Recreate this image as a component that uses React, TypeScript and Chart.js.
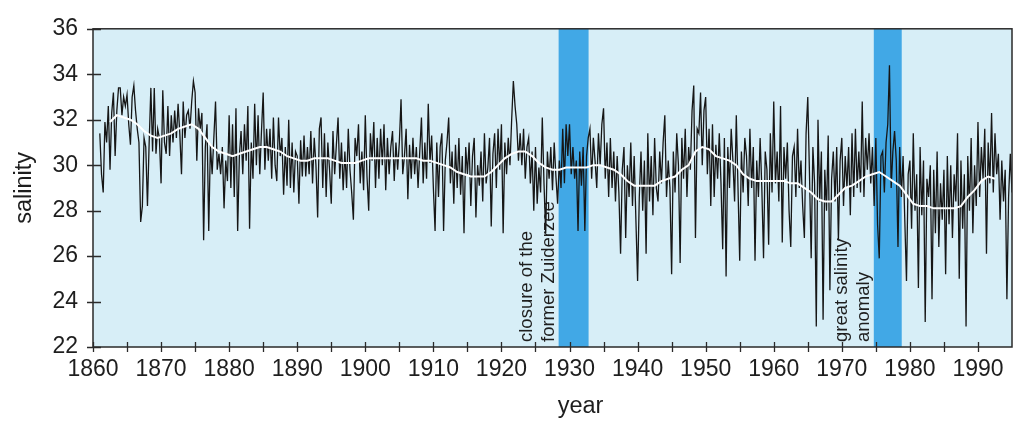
import React, { useEffect, useRef } from 'react';
import { Chart, registerables } from 'chart.js';

Chart.register(...registerables);

// Seasonal surface salinity, four samples a year starting in 1861.
const firstYear = 1861;
const samplesPerYear = 4;
const salinity: number[] = [
  31.4, 29.6, 28.8, 31.9, // 1861
  31.0, 32.6, 29.8, 32.3,
  33.2, 30.4, 32.4, 33.4,
  33.4, 32.2, 33.0, 32.6,
  33.1, 31.8, 30.9, 33.0,
  33.5, 32.4, 31.6, 31.0,
  27.5, 28.2, 31.2, 30.8,
  28.2, 31.0, 33.4, 30.6,
  33.4, 30.5, 31.6, 31.2,
  29.2, 33.3, 31.0, 30.5, // 1870
  32.6, 30.4, 32.2, 31.0,
  32.4, 31.2, 32.7, 31.4,
  29.6, 32.8, 31.2, 32.2,
  32.4, 31.6, 32.8, 33.7,
  33.2, 30.2, 32.5, 31.6,
  32.3, 26.7, 30.8, 31.8,
  27.1, 30.9, 29.6, 31.2,
  32.8, 29.8, 30.5, 29.6,
  30.8, 28.1, 30.2, 29.3,
  32.2, 29.0, 31.8, 28.6, // 1880
  32.5, 27.1, 30.4, 31.5,
  29.6, 31.8, 30.2, 32.6,
  27.2, 31.0, 29.4, 32.7,
  30.0, 32.2, 29.6, 31.5,
  33.2, 29.8, 31.6, 30.2,
  31.6, 29.4, 32.1, 30.0,
  29.3, 32.1, 30.4, 31.2,
  28.7, 30.8, 29.1, 32.0,
  29.0, 31.0, 28.8, 30.6,
  30.4, 28.3, 31.1, 29.5, // 1890
  31.3, 29.5, 30.8, 29.6,
  31.5, 29.2, 31.2, 30.0,
  27.7, 31.6, 32.1, 29.0,
  31.4, 28.6, 31.0, 29.8,
  28.3, 31.5, 29.6, 30.9,
  32.1, 29.4, 31.0, 28.9,
  30.6, 29.0, 31.6, 29.8,
  28.8, 27.6, 31.2, 30.4,
  31.8, 29.2, 30.6, 28.9,
  32.2, 29.5, 28.0, 31.4, // 1900
  30.2, 31.9, 29.0, 31.2,
  29.4, 31.6, 30.0, 31.8,
  28.9, 31.2, 29.6, 30.8,
  31.5, 29.3, 31.0, 29.8,
  31.0, 32.9, 29.6, 30.4,
  31.6, 28.5, 30.9, 29.4,
  31.2, 29.6, 30.8, 29.0,
  30.6, 32.1, 29.2, 31.0,
  29.4, 32.7, 30.1, 31.3,
  29.0, 27.1, 31.0, 28.6, // 1910
  30.8, 31.4, 27.1, 30.2,
  31.0, 32.1, 29.2, 30.6,
  28.3, 30.9, 29.0, 31.2,
  28.7, 30.4, 27.0, 30.8,
  29.6, 31.0, 28.2, 30.4,
  31.2, 27.7, 30.0, 29.1,
  30.6, 28.4, 31.4, 29.2,
  29.9, 31.2, 27.3, 30.5,
  31.4, 29.0, 31.6, 29.8,
  31.8, 27.0, 31.0, 29.6, // 1920
  31.2, 30.0, 32.0, 33.7,
  32.6, 31.8, 30.2, 31.4,
  30.0, 31.6, 29.4, 30.8,
  31.2, 29.2, 30.6, 28.0,
  30.8, 28.3, 29.9, 28.8,
  32.1, 29.2, 27.0, 30.6,
  29.4, 30.8, 28.9, 31.0,
  29.5, 28.3, 30.2, 29.0,
  31.6, 29.2, 31.8, 30.4,
  31.8, 29.6, 30.8, 29.4, // 1930
  30.2, 27.1, 30.6, 29.1,
  30.8, 27.1, 30.4, 31.2,
  31.6, 29.4, 31.2, 30.2,
  29.0, 31.4, 30.0, 31.8,
  32.5, 29.4, 31.0, 28.6,
  31.2, 29.0, 30.6, 28.4,
  30.4, 28.8, 26.1, 29.8,
  30.8, 26.8, 30.0, 28.6,
  31.0, 28.2, 30.4, 27.6,
  24.9, 28.6, 30.6, 28.0, // 1940
  30.2, 26.1, 31.4, 28.4,
  30.4, 27.8, 31.2, 29.0,
  28.4, 30.6, 29.2, 31.0,
  32.2, 28.6, 30.2, 29.0,
  25.2, 30.6, 28.8, 31.4,
  30.0, 25.7, 31.2, 29.4,
  31.6, 28.6, 30.8, 29.8,
  32.4, 33.5, 26.8, 31.6,
  31.4, 33.2, 30.0, 32.4,
  33.0, 29.6, 31.6, 28.2, // 1950
  31.8, 28.6, 30.9, 29.4,
  31.4, 29.2, 26.3, 31.2,
  25.1, 30.8, 29.0, 31.6,
  30.2, 28.4, 32.2, 29.0,
  25.8, 30.6, 28.8, 31.2,
  30.4, 28.2, 31.6, 29.0,
  30.8, 25.8, 30.2, 28.6,
  31.2, 29.0, 25.9, 30.6,
  29.8, 26.5, 31.4, 28.8,
  32.8, 29.2, 30.6, 28.4, // 1960
  32.6, 26.6, 30.8, 29.4,
  31.0, 28.0, 26.4, 30.4,
  30.8, 28.6, 31.6, 29.0,
  30.2, 28.2, 26.8, 31.4,
  33.0, 29.6, 25.9, 30.8,
  29.2, 22.9, 32.0, 28.4,
  30.6, 23.2, 29.8, 28.0,
  31.3, 24.5, 29.4, 30.6,
  28.4, 30.8, 26.7, 30.2,
  31.2, 28.2, 30.4, 29.0, // 1970
  30.8, 27.8, 31.4, 28.6,
  31.6, 29.0, 30.6, 28.8,
  32.8, 28.6, 31.2, 29.8,
  31.4, 29.2, 30.8, 28.2,
  31.2, 27.4, 25.9, 30.4,
  30.6, 28.8, 31.0, 31.8,
  34.4, 29.0, 30.6, 31.5,
  30.2, 26.4, 30.8, 28.6,
  30.4, 27.6, 24.9, 29.6,
  30.2, 27.2, 31.4, 28.0, // 1980
  29.6, 24.6, 30.8, 27.8,
  30.2, 23.1, 29.4, 28.6,
  30.0, 24.1, 29.8, 27.0,
  30.6, 26.4, 29.2, 27.6,
  29.8, 25.2, 30.4, 27.4,
  30.0, 26.8, 29.6, 28.4,
  31.4, 25.0, 30.2, 27.2,
  29.6, 22.9, 30.4, 28.0,
  31.2, 27.0, 30.0, 28.2,
  31.9, 28.6, 30.8, 29.4, // 1990
  31.6, 26.1, 31.0, 29.2,
  32.3, 28.8, 31.4, 29.6,
  30.5, 27.6, 30.2, 28.4,
  29.8, 24.1, 28.6, 30.5,
  28.8, // 1995
];

// Five-year running mean, one value per year, centred mid-year.
const meanFirstYear = 1862;
const runningMean: number[] = [
  31.9, 32.2, 32.1, 32.0, 31.8, 31.5, 31.3, 31.2, // 1862-1869
  31.3, 31.4, 31.6, 31.7, 31.8, 31.6, 31.2, 30.8, 30.6, 30.5, // 1870s
  30.4, 30.5, 30.6, 30.7, 30.8, 30.8, 30.7, 30.6, 30.4, 30.3, // 1880s
  30.2, 30.2, 30.3, 30.3, 30.3, 30.2, 30.1, 30.1, 30.1, 30.2, // 1890s
  30.3, 30.3, 30.3, 30.3, 30.3, 30.3, 30.3, 30.3, 30.2, 30.2, // 1900s
  30.1, 30.0, 29.9, 29.7, 29.6, 29.5, 29.5, 29.5, 29.7, 30.0, // 1910s
  30.3, 30.5, 30.6, 30.6, 30.4, 30.1, 29.9, 29.8, 29.8, 29.9, // 1920s
  29.9, 29.9, 29.9, 30.0, 30.0, 29.9, 29.8, 29.6, 29.3, 29.1, // 1930s
  29.1, 29.1, 29.1, 29.3, 29.4, 29.5, 29.8, 30.0, 30.6, 30.8, // 1940s
  30.7, 30.4, 30.3, 30.2, 30.0, 29.6, 29.4, 29.3, 29.3, 29.3, // 1950s
  29.3, 29.3, 29.2, 29.2, 29.0, 28.8, 28.5, 28.4, 28.4, 28.7, // 1960s
  29.0, 29.1, 29.3, 29.5, 29.6, 29.7, 29.5, 29.3, 29.1, 28.7, // 1970s
  28.3, 28.2, 28.2, 28.1, 28.1, 28.1, 28.1, 28.2, 28.6, 28.9, // 1980s
  29.3, 29.5, 29.4, // 1990-1992
];

const yearMin = 1860;
const yearMax = 1995;
const yearLabels = [1860, 1870, 1880, 1890, 1900, 1910, 1920, 1930, 1940, 1950, 1960, 1970, 1980, 1990];
const yearTickMarks = [
  1860, 1865, 1870, 1875, 1880, 1885, 1890, 1895, 1900, 1905, 1910, 1915, 1920, 1925,
  1930, 1935, 1940, 1945, 1950, 1955, 1960, 1965, 1970, 1975, 1980, 1985, 1990,
];
const salinityTicks = [22, 24, 26, 28, 30, 32, 34, 36];

// Highlighted periods with their two-line captions.
const eventStart = [1928.4, 1974.7];
const eventEnd = [1932.8, 1978.8];
const eventCaptions = [
  ['closure of the', 'former Zuiderzee'],
  ['great salinity', 'anomaly'],
];

const FONT = '"Liberation Sans", Arial, Helvetica, sans-serif';
const INK = '#1e1e1e';
const PLOT_BG = '#d7eef7';
const EVENT_BLUE = '#41a8e6';

const framePlugin = {
  id: 'salinityFrame',
  beforeDatasetsDraw(chart: any) {
    const { ctx, chartArea: a, scales } = chart;
    const x = scales.x;
    ctx.save();
    ctx.fillStyle = PLOT_BG;
    ctx.fillRect(a.left, a.top, a.right - a.left, a.bottom - a.top);
    ctx.fillStyle = EVENT_BLUE;
    for (let i = 0; i < eventStart.length; i++) {
      const x0 = x.getPixelForValue(eventStart[i]);
      const x1 = x.getPixelForValue(eventEnd[i]);
      ctx.fillRect(x0, a.top, x1 - x0, a.bottom - a.top);
    }
    ctx.restore();
  },
  afterDatasetsDraw(chart: any) {
    const { ctx, chartArea: a, scales } = chart;
    const x = scales.x;
    const y = scales.y;
    ctx.save();

    // captions, reading upwards, just left of each band
    ctx.fillStyle = INK;
    ctx.font = `18.5px ${FONT}`;
    ctx.textAlign = 'left';
    ctx.textBaseline = 'middle';
    for (let i = 0; i < eventStart.length; i++) {
      const x0 = x.getPixelForValue(eventStart[i]);
      const lines = eventCaptions[i];
      lines.forEach((text, j) => {
        const cx = x0 - 32 + j * 22;
        ctx.save();
        ctx.translate(cx, a.bottom - 5);
        ctx.rotate(-Math.PI / 2);
        ctx.fillText(text, 0, 0);
        ctx.restore();
      });
    }

    // frame
    ctx.strokeStyle = '#2a2a2a';
    ctx.lineWidth = 1.5;
    ctx.strokeRect(a.left, a.top, a.right - a.left, a.bottom - a.top);

    // tick marks crossing the axes
    ctx.lineWidth = 1.3;
    ctx.beginPath();
    for (const v of yearTickMarks) {
      const px = Math.round(x.getPixelForValue(v)) + 0.5;
      ctx.moveTo(px, a.bottom - 5);
      ctx.lineTo(px, a.bottom + 5);
    }
    for (const v of salinityTicks) {
      const py = Math.round(y.getPixelForValue(v)) + 0.5;
      ctx.moveTo(a.left - 6, py);
      ctx.lineTo(a.left + 8, py);
    }
    ctx.stroke();

    // axis titles
    ctx.fillStyle = INK;
    ctx.font = `23.5px ${FONT}`;
    ctx.textAlign = 'center';
    ctx.textBaseline = 'middle';
    ctx.fillText('year', (a.left + a.right) / 2 + 28, 407);
    ctx.save();
    ctx.translate(25, (a.top + a.bottom) / 2);
    ctx.rotate(-Math.PI / 2);
    ctx.fillText('salinity', 0, 0);
    ctx.restore();

    ctx.restore();
  },
};

export default function App() {
  const canvasRef = useRef<HTMLCanvasElement | null>(null);

  useEffect(() => {
    const canvas = canvasRef.current;
    if (!canvas) return;

    const rawPoints = salinity.map((v, i) => ({ x: firstYear + i / samplesPerYear, y: v }));
    const meanPoints = runningMean.map((v, i) => ({ x: meanFirstYear + 0.5 + i, y: v }));

    const chart = new Chart(canvas, {
      type: 'line',
      data: {
        datasets: [
          {
            label: 'running mean',
            data: meanPoints,
            borderColor: '#ffffff',
            borderWidth: 2,
            pointRadius: 0,
            tension: 0,
            order: 0,
          },
          {
            label: 'salinity',
            data: rawPoints,
            borderColor: '#161616',
            borderWidth: 1.3,
            pointRadius: 0,
            tension: 0,
            order: 1,
          },
        ],
      },
      options: {
        animation: false,
        responsive: true,
        maintainAspectRatio: false,
        events: [],
        layout: { padding: { left: 0, top: 19, right: 3, bottom: 0 } },
        plugins: {
          legend: { display: false },
          tooltip: { enabled: false },
          title: { display: false },
        },
        scales: {
          x: {
            type: 'linear',
            min: yearMin,
            max: yearMax,
            grid: { display: false, drawTicks: false },
            border: { display: false },
            afterBuildTicks: (scale: any) => {
              scale.ticks = yearLabels.map((v) => ({ value: v }));
            },
            afterFit: (scale: any) => {
              scale.height = 74;
            },
            ticks: {
              padding: 9,
              color: INK,
              font: { family: FONT, size: 23 },
              maxRotation: 0,
              autoSkip: false,
              callback: (v: any) => String(v),
            },
          },
          y: {
            type: 'linear',
            min: 22,
            max: 36,
            grid: { display: false, drawTicks: false },
            border: { display: false },
            afterBuildTicks: (scale: any) => {
              scale.ticks = salinityTicks.map((v) => ({ value: v }));
            },
            afterFit: (scale: any) => {
              scale.width = 93;
            },
            ticks: {
              padding: 15,
              color: INK,
              font: { family: FONT, size: 23 },
              callback: (v: any) => String(v),
            },
          },
        },
      },
      plugins: [framePlugin],
    });

    return () => chart.destroy();
  }, []);

  return (
    <div style={{ position: 'absolute', left: 0, top: 0, width: 1015, height: 421, background: '#ffffff' }}>
      <canvas ref={canvasRef} />
    </div>
  );
}
